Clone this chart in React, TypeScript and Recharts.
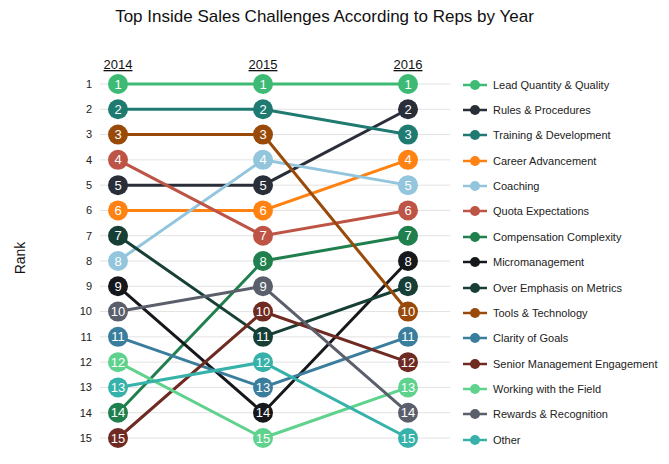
import { LineChart, Line, XAxis, YAxis, CartesianGrid } from 'recharts';

const years = ['2014', '2015', '2016'];
const seriesNames = [
  'Lead Quantity & Quality',
  'Rules & Procedures',
  'Training & Development',
  'Career Advancement',
  'Coaching',
  'Quota Expectations',
  'Compensation Complexity',
  'Micromanagement',
  'Over Emphasis on Metrics',
  'Tools & Technology',
  'Clarity of Goals',
  'Senior Management Engagement',
  'Working with the Field',
  'Rewards & Recognition',
  'Other',
];
const ranks = [
  [1, 1, 1],
  [5, 5, 2],
  [2, 2, 3],
  [6, 6, 4],
  [8, 4, 5],
  [4, 7, 6],
  [14, 8, 7],
  [9, 14, 8],
  [7, 11, 9],
  [3, 3, 10],
  [11, 13, 11],
  [15, 10, 12],
  [12, 15, 13],
  [10, 9, 14],
  [13, 12, 15],
];
const colors = [
  '#3dba74', '#2a2e38', '#1f7b72', '#ff8213', '#93c6dc', '#bd5445', '#1f7f4d', '#16181c',
  '#173f36', '#9a4a08', '#3a7d9c', '#6f2a22', '#5fd28e', '#5b5f6c', '#36b2aa',
];
const rankTicks = [1, 2, 3, 4, 5, 6, 7, 8, 9, 10, 11, 12, 13, 14, 15];

const data = years.map((year, i) => {
  const row: Record<string, any> = { year };
  seriesNames.forEach((name, s) => {
    row[name] = ranks[s][i];
  });
  return row;
});

const font = '"Liberation Sans", Arial, sans-serif';

function makeDot(color: string) {
  return (props: any) => {
    const { cx, cy, value, index } = props;
    return (
      <g key={`d-${index}`}>
        <circle cx={cx} cy={cy} r={10} fill={color} />
        <text x={cx} y={cy + 4.5} textAnchor="middle" fill="#fff" fontSize={13} fontFamily={font}>
          {value}
        </text>
      </g>
    );
  };
}

function LegendBox() {
  return (
    <div style={{ position: 'absolute', left: 462, top: 72, fontSize: 11, color: '#222' }}>
      {seriesNames.map((name, i) => (
        <div key={name} style={{ height: 25.36, display: 'flex', alignItems: 'center' }}>
          <svg width={26} height={12} style={{ marginRight: 5 }}>
            <line x1={1} y1={6} x2={25} y2={6} stroke={colors[i]} strokeWidth={2.5} />
            <circle cx={13} cy={6} r={5} fill={colors[i]} />
          </svg>
          <span>{name}</span>
        </div>
      ))}
    </div>
  );
}

export default function App() {
  return (
    <div style={{ position: 'absolute', left: 0, top: 0, width: 669, height: 464, background: '#fff', fontFamily: font }}>
      <div style={{ position: 'absolute', top: 7, left: 0, width: 669, textAlign: 'center', fontSize: 17, color: '#111' }}>
        <span style={{ position: 'relative', left: -10 }}>Top Inside Sales Challenges According to Reps by Year</span>
      </div>
      <div style={{ position: 'absolute', left: 4, top: 250, transform: 'rotate(-90deg)', fontSize: 14, color: '#111' }}>
        Rank
      </div>
      <LineChart width={669} height={464} data={data} margin={{ top: 83, right: 219, bottom: 26, left: 60 }}>
        <CartesianGrid vertical={false} stroke="#e2e2e2" />
        <XAxis
          dataKey="year"
          orientation="top"
          axisLine={false}
          tickLine={false}
          height={1}
          padding={{ left: 18, right: 42 }}
          tick={(p: any) => (
            <text x={p.x} y={69} textAnchor="middle" fontSize={13} fill="#111" fontFamily={font} textDecoration="underline">
              {p.payload.value}
            </text>
          )}
        />
        <YAxis
          type="number"
          reversed
          domain={[1, 15]}
          ticks={rankTicks}
          axisLine={false}
          tickLine={false}
          width={40}
          tick={{ fontSize: 11, fill: '#222', fontFamily: font }}
        />
        {seriesNames.map((name, i) => (
          <Line
            key={name}
            dataKey={name}
            stroke={colors[i]}
            strokeWidth={3}
            dot={makeDot(colors[i])}
            activeDot={false}
            isAnimationActive={false}
          />
        ))}
      </LineChart>
      <LegendBox />
    </div>
  );
}
